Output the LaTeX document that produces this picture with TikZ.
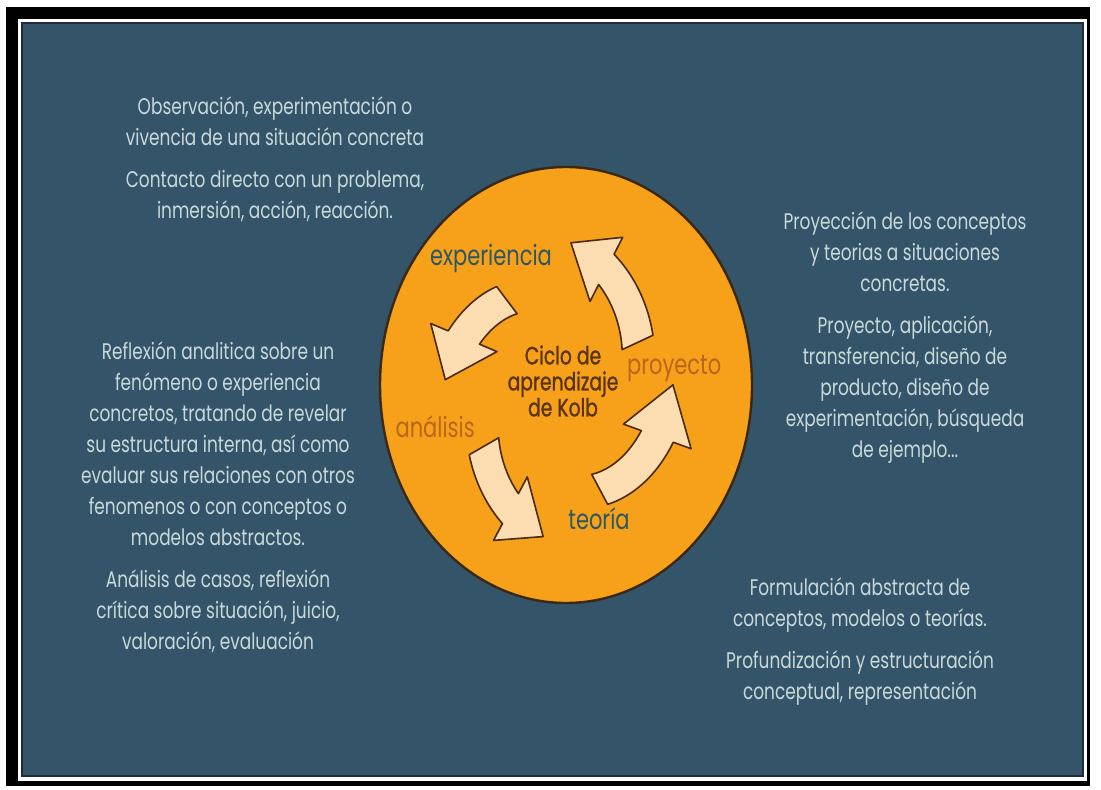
\documentclass[tikz,border=0pt]{standalone}
\usepackage{fontspec}
\setmainfont{Poppins}[FakeStretch=0.75]
\usetikzlibrary{positioning}

\definecolor{slate}{HTML}{34546A}
\definecolor{desctext}{HTML}{C9D9D9}
\definecolor{disc}{HTML}{F7A11B}
\definecolor{discline}{HTML}{3A2810}
\definecolor{cream}{HTML}{FBDDB1}
\definecolor{arrowline}{HTML}{4A2A0C}
\definecolor{tealtext}{HTML}{2D5863}
\definecolor{rusttext}{HTML}{B8661C}
\definecolor{kolbtext}{HTML}{5A3310}

\def\cyclerx{114}
\def\cyclery{148}
\def\bandw{17}
\def\headw{36}

% fat curved arrow: tail angle, head base angle, tip angle
\newcommand{\cyclearrow}[3]{%
  \draw[bigarrow]
    plot[domain=#1:#2, samples=25, variable=\t]
      ({(\cyclerx*sp(\t,#1,#3)+\bandw)*cos(\t)}, {(\cyclery*sp(\t,#1,#3)+\bandw)*sin(\t)})
    -- ({(\cyclerx*sp(#2,#1,#3)+\headw)*cos(#2)}, {(\cyclery*sp(#2,#1,#3)+\headw)*sin(#2)})
    -- ({\cyclerx*cos(#3)}, {\cyclery*sin(#3)})
    -- ({(\cyclerx*sp(#2,#1,#3)-\headw)*cos(#2)}, {(\cyclery*sp(#2,#1,#3)-\headw)*sin(#2)})
    -- plot[domain=#2:#1, samples=25, variable=\t]
      ({(\cyclerx*sp(\t,#1,#3)-\bandw)*cos(\t)}, {(\cyclery*sp(\t,#1,#3)-\bandw)*sin(\t)})
    -- cycle;}

\begin{document}
\begin{tikzpicture}[x=0.5pt,y=-0.5pt,
    declare function={sp(\t,\a,\c)=0.76+0.24*(\t-\a)/(\c-\a);},
    desc/.style={text=desctext,align=center,inner sep=0pt,font=\fontsize{11.3}{15.5}\selectfont},
    stage/.style={inner sep=0pt,font=\fontsize{14}{15}\selectfont},
    bigarrow/.style={fill=cream,draw=arrowline,line width=0.8pt,line join=round}]
	\useasboundingbox (0,0) rectangle (1101,790);

	% frame
	\fill[white] (0,0) rectangle (1101,790);
	\fill[black] (6,7) rectangle (1090,786);
	\fill[white] (18,19) rectangle (1087,781);
	\fill[slate] (21,22) rectangle (1084,777);
	\draw[slate!55!black,line width=1.2pt] (22,23) rectangle (1083,776);

	% disc
	\draw[fill=disc,draw=discline,line width=1.2pt] (566,385) ellipse [x radius=186, y radius=218];

	% cycle arrows
	\begin{scope}[shift={(559,390)},yscale=-1]
		\cyclearrow{25}{63}{84}
		\cyclearrow{127}{157}{176}
		\cyclearrow{210}{242}{262}
		\cyclearrow{298}{340}{362}
	\end{scope}

	% labels in the disc
	\node[text=kolbtext,align=center,inner sep=0pt,font=\fontsize{12.5}{13}\selectfont\addfontfeature{FakeBold=1}] (ciclo) at (563,381) {Ciclo de\\aprendizaje\\de Kolb};
	\node[stage,text=tealtext,above=36pt of ciclo,xshift=-36pt]		(experiencia)	{experiencia};
	\node[stage,text=rusttext,right=4pt of ciclo,yshift=6pt]		(proyecto)		{proyecto};
	\node[stage,text=rusttext,left=16pt of ciclo,yshift=-23pt]		(analisis)		{análisis};
	\node[stage,text=tealtext,below=45pt of ciclo,xshift=18pt]		(teoria)		{teoría};

	% descriptions
	\node[desc] (expdesc) at (275,159) {Observación, experimentación o\\vivencia de una situación concreta\\[5.5pt]Contacto directo con un problema,\\inmersión, acción, reacción.};
	\node[desc] (anadesc) at (218,497) {Reflexión analitica sobre un\\fenómeno o experiencia\\concretos, tratando de revelar\\su estructura interna, así como\\evaluar sus relaciones con otros\\fenomenos o con conceptos o\\modelos abstractos.\\[5.5pt]Análisis de casos, reflexión\\crítica sobre situación, juicio,\\valoración, evaluación};
	\node[desc] (prodesc) at (905,338) {Proyección de los conceptos\\y teorias a situaciones\\concretas.\\[5.5pt]Proyecto, aplicación,\\transferencia, diseño de\\producto, diseño de\\experimentación, búsqueda\\de ejemplo...};
	\node[desc] (teodesc) at (860,642) {Formulación abstracta de\\conceptos, modelos o teorías.\\[5.5pt]Profundización y estructuración\\conceptual, representación};
\end{tikzpicture}
\end{document}
